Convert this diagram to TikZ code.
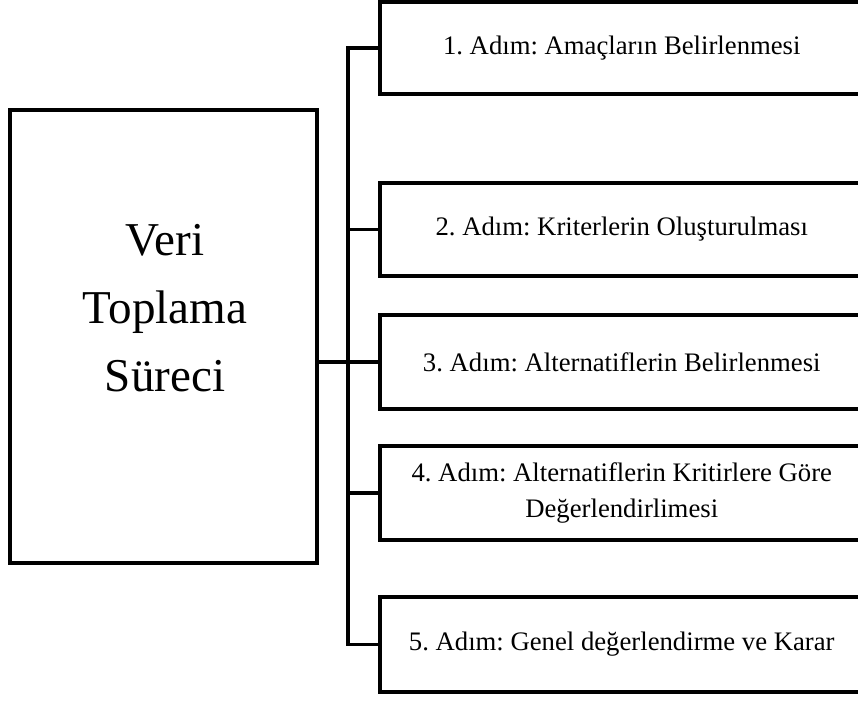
\documentclass[tikz,border=0pt]{standalone}
\usepackage{fontspec}
\setmainfont{Liberation Serif}
\usetikzlibrary{calc}
\frenchspacing
\tikzset{
    x=0.02cm, y=-0.02cm,
    frame/.style={draw=black, line width=3.6pt*0.569, inner sep=0pt},
    stepbox/.style={frame, minimum width=9.68cm, anchor=west,
                    font=\fontsize{15.2}{20}\selectfont, align=center},
    biglbl/.style={font=\fontsize{26.8}{38.7}\selectfont, align=center},
    link/.style={draw=black, line width=3.1pt*0.569},
}
\begin{document}
\begin{tikzpicture}
    \useasboundingbox (0,0) rectangle (858,702);

    \node[frame, minimum width=6.14cm, minimum height=9.06cm] (proc) at (163.5,336.5) {};
    \node[biglbl] (proclbl) at (165,308) {Veri\\Toplama\\Süreci};

    \node[stepbox, minimum height=1.84cm] (a1) at (378,48) {1. Adım: Amaçların Belirlenmesi};
    \node[stepbox, minimum height=1.86cm] (a2) at (378,229.5) {2. Adım: Kriterlerin Oluşturulması};
    \node[stepbox, minimum height=1.88cm] (a3) at (378,362) {3. Adım: Alternatiflerin Belirlenmesi};
    \node[stepbox, minimum height=1.88cm] (a4) at (378,493) {4. Adım: Alternatiflerin Kritirlere Göre\\Değerlendirlimesi};
    \node[stepbox, minimum height=1.90cm] (a5) at (378,644.5) {5. Adım: Genel değerlendirme ve Karar};

    % bus on the left of the step boxes
    \draw[link] (a1.west) -- ++(-30,0) |- (a5.west);
    \foreach \i in {2,3,4}
        \draw[link] (a\i.west) -- ++(-30,0);
    \draw[link] (proc.east |- a3.west) -- (a3.west);
\end{tikzpicture}
\end{document}
